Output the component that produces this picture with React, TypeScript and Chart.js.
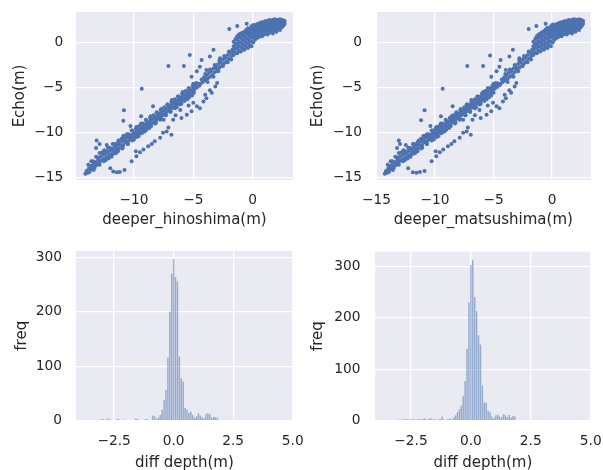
import React, { useEffect, useRef } from "react";
import { Chart, registerables } from "chart.js";

Chart.register(...registerables);

const FONT = "'DejaVu Sans', sans-serif";
const TEXT = "#262626";
const BG = "#EAEAF2";
const BLUE = "#4C72B0";

// ---------- tick labels ----------
const hinoXTicks = [-10, -5, 0];
const matsuXTicks = [-15, -10, -5, 0];
const echoTicks = [-15, -10, -5, 0];
const diffTicks = [-2.5, 0, 2.5, 5];
const freqTicks = [0, 100, 200, 300];

// ---------- scatter: [deeper depth, Echo depth] ----------
const hinoshimaPoints: [number, number][] = [
  // main band, lower part
  [-14.1,-14.6],[-14.0,-14.3],[-13.9,-14.5],[-13.8,-14.0],[-13.7,-14.2],[-13.6,-13.7],[-13.5,-14.0],[-13.4,-13.5],[-13.3,-13.8],[-13.2,-13.3],
  [-13.1,-13.6],[-13.0,-13.0],[-12.9,-13.3],[-12.8,-12.7],[-12.7,-13.1],[-12.6,-12.5],[-12.5,-12.9],[-12.4,-12.4],[-12.3,-12.8],[-12.2,-12.2],
  [-12.1,-12.6],[-12.0,-12.0],[-11.9,-12.4],[-11.8,-11.8],[-11.7,-12.1],[-11.6,-11.6],[-11.5,-11.9],[-11.4,-11.4],[-11.3,-11.8],[-11.2,-11.3],
  [-11.1,-11.5],[-11.0,-11.0],[-10.9,-11.4],[-10.8,-10.8],[-10.7,-11.1],[-10.6,-10.6],[-10.5,-11.0],[-10.4,-10.5],[-10.3,-10.8],[-10.2,-10.3],
  [-10.1,-10.6],[-10.0,-10.1],[-9.9,-10.4],[-9.8,-9.9],[-9.7,-10.2],[-9.6,-9.7],[-9.5,-10.0],[-9.4,-9.5],[-9.3,-9.8],[-9.2,-9.3],
  [-9.1,-9.6],[-9.0,-9.1],[-8.9,-9.4],[-8.8,-8.9],[-8.7,-9.2],[-8.6,-8.7],[-8.5,-9.0],[-8.4,-8.5],[-8.3,-8.8],[-8.2,-8.3],
  [-8.1,-8.6],[-8.0,-8.1],[-7.9,-8.4],[-7.8,-7.9],[-7.7,-8.2],[-7.6,-7.7],[-7.5,-8.0],[-7.4,-7.5],[-7.3,-7.8],[-7.2,-7.3],
  [-7.1,-7.6],[-7.0,-7.1],[-6.9,-7.4],[-6.8,-6.9],[-6.7,-7.2],[-6.6,-6.7],[-6.5,-7.0],[-6.4,-6.5],[-6.3,-6.8],[-6.2,-6.3],
  [-6.1,-6.6],[-6.0,-6.1],[-5.9,-6.4],[-5.8,-5.9],[-5.7,-6.2],[-5.6,-5.7],[-5.5,-6.0],[-5.4,-5.5],[-5.3,-5.8],[-5.2,-5.3],
  [-5.1,-5.5],[-5.0,-5.0],[-4.9,-5.2],[-4.8,-4.8],[-4.7,-5.0],[-4.6,-4.6],[-4.5,-4.8],
  // band upper and lower edges
  [-13.85,-13.6],[-13.45,-13.2],[-13.05,-12.8],[-12.65,-12.2],[-12.35,-12.1],[-12.05,-11.7],[-11.65,-11.3],[-11.35,-11.1],[-11.05,-10.7],[-10.75,-10.4],
  [-10.45,-10.2],[-10.15,-9.8],[-9.85,-9.6],[-9.55,-9.3],[-9.25,-9.0],[-8.95,-8.7],[-8.65,-8.4],[-8.35,-8.1],[-8.05,-7.8],[-7.75,-7.5],
  [-7.45,-7.2],[-7.15,-6.9],[-6.85,-6.6],[-6.55,-6.3],[-6.25,-6.0],[-5.95,-5.7],[-5.65,-5.4],[-5.35,-5.1],[-5.05,-4.8],[-4.75,-4.5],
  [-13.75,-14.4],[-13.35,-14.0],[-12.95,-13.5],[-12.55,-13.2],[-12.15,-12.9],[-11.75,-12.4],[-11.35,-12.1],[-10.95,-11.7],[-10.55,-11.3],[-10.15,-10.9],
  [-9.75,-10.5],[-9.35,-10.1],[-8.95,-9.7],[-8.55,-9.3],[-8.15,-8.9],[-7.75,-8.5],[-7.35,-8.1],[-6.95,-7.7],[-6.55,-7.3],[-6.15,-6.9],
  [-5.75,-6.5],[-5.35,-6.1],[-4.95,-5.6],
  // band spread
  [-13.6,-13.2],[-13.2,-12.7],[-12.9,-12.3],[-12.5,-12.0],[-12.2,-11.7],[-11.8,-11.3],[-11.3,-10.9],[-10.9,-10.4],[-10.6,-10.2],[-10.2,-9.8],
  [-9.8,-9.4],[-9.4,-9.0],[-9.0,-8.6],[-8.6,-8.2],[-8.1,-7.8],[-7.7,-7.4],[-7.2,-6.9],[-6.8,-6.4],[-6.3,-6.0],[-5.9,-5.5],[-5.4,-5.1],[-5.0,-4.6],
  [-13.4,-14.2],[-12.9,-13.6],[-12.4,-13.1],[-11.9,-12.7],[-11.5,-12.3],[-11.0,-11.8],[-10.5,-11.3],[-10.0,-10.8],[-9.6,-10.4],[-9.1,-9.9],
  [-8.7,-9.5],[-8.2,-9.0],[-7.8,-8.6],[-7.3,-8.1],[-6.9,-7.7],[-6.4,-7.2],[-6.0,-6.8],[-5.5,-6.3],[-5.1,-5.9],
  // steep middle part
  [-4.4,-4.6],[-4.3,-4.1],[-4.2,-4.4],[-4.1,-3.9],[-4.0,-4.2],[-3.9,-3.6],[-3.8,-4.0],[-3.7,-3.4],[-3.6,-3.8],[-3.5,-3.2],
  [-3.4,-3.6],[-3.3,-2.9],[-3.2,-3.3],[-3.1,-2.7],[-3.0,-3.0],[-2.9,-2.4],[-2.8,-2.8],[-2.7,-2.2],[-2.6,-2.6],[-2.5,-1.9],
  [-2.4,-2.3],[-2.3,-1.7],[-2.2,-2.1],[-2.1,-1.4],[-2.0,-1.8],[-1.9,-1.1],[-1.8,-1.5],[-1.7,-0.8],[-1.6,-1.2],[-1.5,-0.5],
  [-4.0,-3.5],[-3.6,-3.0],[-3.2,-2.5],[-2.8,-2.0],[-2.4,-1.5],[-2.0,-1.0],[-3.8,-4.4],[-3.3,-3.8],[-2.9,-3.2],[-2.5,-2.6],[-2.1,-2.2],[-1.8,-1.9],
  // upper cluster
  [-1.6,-1.4],[-1.6,-0.9],[-1.6,-0.4],[-1.6,0.1],
  [-1.45,-1.1],[-1.45,-0.6],[-1.45,-0.1],[-1.45,0.4],
  [-1.3,-1.2],[-1.3,-0.7],[-1.3,-0.2],[-1.3,0.3],[-1.3,0.7],
  [-1.15,-0.9],[-1.15,-0.4],[-1.15,0.1],[-1.15,0.6],[-1.15,0.9],
  [-1.0,-1.0],[-1.0,-0.5],[-1.0,0.0],[-1.0,0.5],[-1.0,1.0],
  [-0.85,-0.7],[-0.85,-0.2],[-0.85,0.3],[-0.85,0.8],[-0.85,1.1],
  [-0.7,-0.8],[-0.7,-0.3],[-0.7,0.2],[-0.7,0.7],[-0.7,1.2],
  [-0.55,-0.5],[-0.55,0.0],[-0.55,0.5],[-0.55,1.0],[-0.55,1.4],
  [-0.4,-0.6],[-0.4,-0.1],[-0.4,0.4],[-0.4,0.9],[-0.4,1.3],[-0.4,1.6],
  [-0.25,-0.3],[-0.25,0.2],[-0.25,0.7],[-0.25,1.1],[-0.25,1.5],
  [-0.1,-0.4],[-0.1,0.1],[-0.1,0.6],[-0.1,1.0],[-0.1,1.4],[-0.1,1.8],
  [0.05,0.0],[0.05,0.5],[0.05,0.9],[0.05,1.3],[0.05,1.7],[0.05,1.95],
  [0.2,0.3],[0.2,0.8],[0.2,1.2],[0.2,1.6],[0.2,1.9],
  [0.35,0.5],[0.35,0.9],[0.35,1.3],[0.35,1.7],[0.35,2.05],
  [0.5,0.6],[0.5,1.0],[0.5,1.4],[0.5,1.8],[0.5,2.1],
  [0.65,0.8],[0.65,1.2],[0.65,1.6],[0.65,1.95],[0.65,2.2],
  [0.8,0.7],[0.8,1.1],[0.8,1.5],[0.8,1.9],[0.8,2.25],
  [0.95,0.9],[0.95,1.3],[0.95,1.7],[0.95,2.05],[0.95,2.3],
  [1.1,1.0],[1.1,1.4],[1.1,1.8],[1.1,2.15],[1.1,2.4],
  [1.25,0.9],[1.25,1.3],[1.25,1.7],[1.25,2.0],[1.25,2.35],
  [1.4,1.1],[1.4,1.5],[1.4,1.9],[1.4,2.2],[1.4,2.5],
  [1.55,1.2],[1.55,1.6],[1.55,2.0],[1.55,2.3],[1.55,2.45],
  [1.7,1.0],[1.7,1.4],[1.7,1.8],[1.7,2.15],[1.7,2.5],
  [1.85,1.3],[1.85,1.7],[1.85,2.1],[1.85,2.4],[1.85,2.6],
  [2.0,1.2],[2.0,1.6],[2.0,2.0],[2.0,2.3],[2.0,2.55],
  [2.15,1.5],[2.15,1.9],[2.15,2.2],[2.15,2.5],
  [2.3,1.4],[2.3,1.8],[2.3,2.1],[2.3,2.4],[2.3,2.6],
  [2.45,1.7],[2.45,2.0],[2.45,2.3],[2.45,2.55],
  [2.6,1.9],[2.6,2.2],[2.6,2.45],[2.7,2.1],[2.7,2.4],
  // points above the band
  [-7.1,-2.6],[-5.8,-2.6],[-9.35,-5.15],[-10.85,-7.55],[-10.9,-8.7],[-13.15,-10.9],[-13.2,-11.75],[-12.9,-11.3],
  [-4.3,-1.95],[-5.3,-1.4],[-3.3,-0.8],[-3.6,-1.55],[-2.75,-1.75],[-1.97,1.5],[-1.3,1.85],[-0.5,2.1],
  [-4.45,-2.7],[-3.9,-3.05],[-4.7,-3.2],[-5.15,-3.8],[-8.4,-7.1],[-9.4,-8.2],[-10.3,-9.3],[-12.3,-11.4],
  // points below the band
  [-12.0,-14.0],[-11.75,-14.35],[-11.45,-14.45],[-11.2,-14.4],[-10.8,-14.2],[-10.2,-13.2],[-9.8,-12.65],[-9.85,-12.1],
  [-9.2,-11.9],[-8.8,-11.55],[-8.25,-11.0],[-7.8,-10.6],[-7.55,-10.05],[-7.25,-9.9],[-6.85,-10.25],[-7.1,-9.45],
  [-6.7,-8.6],[-6.1,-7.5],[-6.0,-8.4],[-5.55,-8.05],[-5.15,-7.65],[-4.7,-7.1],[-4.45,-7.3],[-4.15,-6.55],
  [-3.9,-6.2],[-3.45,-5.6],[-3.15,-4.9],[-3.0,-4.5],[-7.5,-8.6],[-6.5,-8.1],[-5.4,-7.0],[-5.0,-6.7],
  [-3.6,-5.3],[-4.0,-5.8],[-8.5,-11.3],[-9.5,-12.2],
];

const matsushimaPoints: [number, number][] = [
  // main band, lower part
  [-14.3,-14.6],[-14.2,-14.3],[-14.1,-14.5],[-14.0,-14.0],[-13.9,-14.2],[-13.8,-13.7],[-13.7,-14.0],[-13.6,-13.5],[-13.5,-13.8],[-13.4,-13.3],
  [-13.3,-13.6],[-13.2,-13.0],[-13.1,-13.3],[-13.0,-12.7],[-12.9,-13.1],[-12.8,-12.5],[-12.7,-12.9],[-12.6,-12.4],[-12.5,-12.8],[-12.4,-12.2],
  [-12.3,-12.6],[-12.2,-12.0],[-12.1,-12.4],[-12.0,-11.8],[-11.9,-12.1],[-11.8,-11.6],[-11.7,-11.9],[-11.6,-11.4],[-11.5,-11.8],[-11.4,-11.3],
  [-11.3,-11.5],[-11.2,-11.0],[-11.1,-11.4],[-11.0,-10.8],[-10.9,-11.1],[-10.8,-10.6],[-10.7,-11.0],[-10.6,-10.5],[-10.5,-10.8],[-10.4,-10.3],
  [-10.3,-10.6],[-10.2,-10.1],[-10.1,-10.4],[-10.0,-9.95],[-9.9,-10.25],[-9.8,-9.75],[-9.7,-10.05],[-9.6,-9.55],[-9.5,-9.85],[-9.4,-9.35],
  [-9.3,-9.65],[-9.2,-9.15],[-9.1,-9.45],[-9.0,-8.95],[-8.9,-9.25],[-8.8,-8.75],[-8.7,-9.05],[-8.6,-8.55],[-8.5,-8.85],[-8.4,-8.35],
  [-8.3,-8.65],[-8.2,-8.15],[-8.1,-8.45],[-8.0,-7.95],[-7.9,-8.25],[-7.8,-7.75],[-7.7,-8.05],[-7.6,-7.55],[-7.5,-7.85],[-7.4,-7.35],
  [-7.3,-7.65],[-7.2,-7.15],[-7.1,-7.45],[-7.0,-6.95],[-6.9,-7.25],[-6.8,-6.75],[-6.7,-7.05],[-6.6,-6.55],[-6.5,-6.85],[-6.4,-6.35],
  [-6.3,-6.65],[-6.2,-6.15],[-6.1,-6.45],[-6.0,-5.95],[-5.9,-6.25],[-5.8,-5.75],[-5.7,-6.05],[-5.6,-5.55],[-5.5,-5.85],[-5.4,-5.35],
  [-5.3,-5.6],[-5.2,-5.1],[-5.1,-5.4],[-5.0,-4.95],[-4.9,-5.15],[-4.8,-4.75],[-4.7,-4.95],[-4.6,-4.55],[-4.5,-4.75],
  // band upper and lower edges
  [-14.05,-13.6],[-13.65,-13.2],[-13.25,-12.8],[-12.85,-12.2],[-12.55,-12.1],[-12.2,-11.7],[-11.8,-11.3],[-11.5,-11.1],[-11.2,-10.7],[-10.9,-10.4],
  [-10.55,-10.2],[-10.25,-9.8],[-9.95,-9.6],[-9.65,-9.3],[-9.35,-9.0],[-9.05,-8.7],[-8.75,-8.4],[-8.45,-8.1],[-8.15,-7.8],[-7.85,-7.5],
  [-7.5,-7.2],[-7.2,-6.9],[-6.9,-6.6],[-6.6,-6.3],[-6.3,-6.0],[-6.0,-5.7],[-5.7,-5.4],[-5.4,-5.1],[-5.1,-4.8],[-4.8,-4.5],
  [-13.95,-14.4],[-13.55,-14.0],[-13.15,-13.5],[-12.75,-13.2],[-12.35,-12.9],[-11.9,-12.4],[-11.5,-12.1],[-11.1,-11.7],[-10.7,-11.3],[-10.3,-10.9],
  [-9.85,-10.5],[-9.45,-10.1],[-9.05,-9.7],[-8.65,-9.3],[-8.25,-8.9],[-7.85,-8.5],[-7.4,-8.1],[-7.0,-7.7],[-6.6,-7.3],[-6.2,-6.9],
  [-5.8,-6.5],[-5.4,-6.1],[-5.0,-5.6],
  // band spread
  [-13.8,-13.2],[-13.4,-12.7],[-13.1,-12.3],[-12.7,-12.0],[-12.3,-11.7],[-11.9,-11.3],[-11.4,-10.9],[-11.0,-10.4],[-10.7,-10.2],[-10.3,-9.8],
  [-9.9,-9.4],[-9.5,-9.0],[-9.1,-8.6],[-8.6,-8.2],[-8.2,-7.8],[-7.8,-7.4],[-7.3,-6.9],[-6.9,-6.4],[-6.4,-6.0],[-5.9,-5.5],[-5.5,-5.1],[-5.0,-4.6],
  [-13.6,-14.2],[-13.1,-13.6],[-12.6,-13.1],[-12.1,-12.7],[-11.7,-12.3],[-11.2,-11.8],[-10.7,-11.3],[-10.1,-10.8],[-9.7,-10.4],[-9.2,-9.9],
  [-8.8,-9.5],[-8.3,-9.0],[-7.9,-8.6],[-7.4,-8.1],[-7.0,-7.7],[-6.5,-7.2],[-6.1,-6.8],[-5.6,-6.3],[-5.2,-5.9],
  // steep middle part
  [-4.4,-4.6],[-4.3,-4.1],[-4.2,-4.4],[-4.1,-3.9],[-4.0,-4.2],[-3.9,-3.6],[-3.8,-4.0],[-3.7,-3.4],[-3.6,-3.8],[-3.5,-3.2],
  [-3.4,-3.6],[-3.3,-2.9],[-3.2,-3.3],[-3.1,-2.7],[-3.0,-3.0],[-2.9,-2.4],[-2.8,-2.8],[-2.7,-2.2],[-2.6,-2.6],[-2.5,-1.9],
  [-2.4,-2.3],[-2.3,-1.7],[-2.2,-2.1],[-2.1,-1.4],[-2.0,-1.8],[-1.9,-1.1],[-1.8,-1.5],[-1.7,-0.8],[-1.6,-1.2],[-1.5,-0.5],
  [-4.0,-3.5],[-3.6,-3.0],[-3.2,-2.5],[-2.8,-2.0],[-2.4,-1.5],[-2.0,-1.0],[-3.8,-4.4],[-3.3,-3.8],[-2.9,-3.2],[-2.5,-2.6],[-2.1,-2.2],[-1.8,-1.9],
  // upper cluster
  [-1.6,-1.4],[-1.6,-0.9],[-1.6,-0.4],[-1.6,0.1],
  [-1.45,-1.1],[-1.45,-0.6],[-1.45,-0.1],[-1.45,0.4],
  [-1.3,-1.2],[-1.3,-0.7],[-1.3,-0.2],[-1.3,0.3],[-1.3,0.7],
  [-1.15,-0.9],[-1.15,-0.4],[-1.15,0.1],[-1.15,0.6],[-1.15,0.9],
  [-1.0,-1.0],[-1.0,-0.5],[-1.0,0.0],[-1.0,0.5],[-1.0,1.0],
  [-0.85,-0.7],[-0.85,-0.2],[-0.85,0.3],[-0.85,0.8],[-0.85,1.15],
  [-0.7,-0.8],[-0.7,-0.3],[-0.7,0.2],[-0.7,0.7],[-0.7,1.25],
  [-0.55,-0.5],[-0.55,0.0],[-0.55,0.5],[-0.55,1.0],[-0.55,1.45],
  [-0.4,-0.6],[-0.4,-0.1],[-0.4,0.4],[-0.4,0.9],[-0.4,1.3],[-0.4,1.65],
  [-0.25,-0.3],[-0.25,0.2],[-0.25,0.7],[-0.25,1.1],[-0.25,1.5],
  [-0.1,-0.4],[-0.1,0.1],[-0.1,0.6],[-0.1,1.0],[-0.1,1.4],[-0.1,1.8],
  [0.05,0.0],[0.05,0.5],[0.05,0.9],[0.05,1.3],[0.05,1.7],[0.05,2.0],
  [0.2,0.3],[0.2,0.8],[0.2,1.2],[0.2,1.6],[0.2,1.95],
  [0.35,0.5],[0.35,0.9],[0.35,1.3],[0.35,1.7],[0.35,2.05],
  [0.5,0.6],[0.5,1.0],[0.5,1.4],[0.5,1.8],[0.5,2.1],
  [0.65,0.8],[0.65,1.2],[0.65,1.6],[0.65,1.95],[0.65,2.2],
  [0.8,0.7],[0.8,1.1],[0.8,1.5],[0.8,1.9],[0.8,2.25],
  [0.95,0.9],[0.95,1.3],[0.95,1.7],[0.95,2.05],[0.95,2.3],
  [1.1,1.0],[1.1,1.4],[1.1,1.8],[1.1,2.15],[1.1,2.4],
  [1.25,0.9],[1.25,1.3],[1.25,1.7],[1.25,2.0],[1.25,2.35],
  [1.4,1.1],[1.4,1.5],[1.4,1.9],[1.4,2.2],[1.4,2.5],
  [1.55,1.2],[1.55,1.6],[1.55,2.0],[1.55,2.3],[1.55,2.45],
  [1.7,1.0],[1.7,1.4],[1.7,1.8],[1.7,2.15],[1.7,2.5],
  [1.85,1.3],[1.85,1.7],[1.85,2.1],[1.85,2.4],[1.85,2.6],
  [2.0,1.2],[2.0,1.6],[2.0,2.0],[2.0,2.3],[2.0,2.55],
  [2.15,1.5],[2.15,1.9],[2.15,2.2],[2.15,2.5],
  [2.3,1.4],[2.3,1.8],[2.3,2.1],[2.3,2.4],[2.3,2.6],
  [2.45,1.7],[2.45,2.0],[2.45,2.3],[2.45,2.55],
  [2.55,1.9],[2.55,2.2],[2.55,2.45],[2.65,2.1],[2.65,2.4],
  // points above the band
  [-7.25,-2.6],[-5.9,-2.6],[-9.35,-5.15],[-10.9,-7.55],[-11.2,-8.65],[-13.1,-10.9],[-13.25,-11.75],[-13.0,-11.3],
  [-4.4,-1.95],[-5.3,-1.45],[-3.35,-0.8],[-3.65,-1.55],[-2.8,-1.75],[-2.0,1.5],[-1.35,1.85],[-0.55,2.1],
  [-4.5,-2.7],[-3.95,-3.05],[-4.75,-3.2],[-5.2,-3.8],[-8.5,-7.1],[-9.5,-8.2],[-10.4,-9.3],[-12.5,-11.4],
  // points below the band
  [-12.3,-14.0],[-11.9,-14.45],[-11.6,-14.5],[-11.3,-14.4],[-10.9,-14.3],[-10.3,-13.2],[-9.9,-12.65],[-9.95,-12.1],
  [-9.3,-11.9],[-8.9,-11.55],[-8.35,-11.0],[-7.9,-10.6],[-7.6,-10.05],[-7.3,-9.9],[-6.95,-10.25],[-7.2,-9.45],
  [-6.8,-8.6],[-6.2,-7.5],[-6.1,-8.4],[-5.6,-8.05],[-5.2,-7.65],[-4.75,-7.1],[-4.5,-7.3],[-4.2,-6.55],
  [-3.95,-6.2],[-3.5,-5.6],[-3.2,-4.9],[-3.05,-4.5],[-7.6,-8.6],[-6.6,-8.1],[-5.5,-7.0],[-5.05,-6.7],
  [-3.65,-5.3],[-4.05,-5.8],[-8.6,-11.3],[-9.6,-12.2],
];

// ---------- histograms of depth difference ----------
const diffBins = [
  -3.04, -2.96, -2.88, -2.80, -2.72, -2.64, -2.56, -2.48, -2.40, -2.32,
  -2.24, -2.16, -2.08, -2.00, -1.92, -1.84, -1.76, -1.68, -1.60, -1.52,
  -1.44, -1.36, -1.28, -1.20, -1.12, -1.04, -0.96, -0.88, -0.80, -0.72,
  -0.64, -0.56, -0.48, -0.40, -0.32, -0.24, -0.16, -0.08, 0.00, 0.08,
  0.16, 0.24, 0.32, 0.40, 0.48, 0.56, 0.64, 0.72, 0.80, 0.88,
  0.96, 1.04, 1.12, 1.20, 1.28, 1.36, 1.44, 1.52, 1.60, 1.68,
  1.76, 1.84,
];
const hinoshimaFreq = [
  2, 3, 0, 3, 3, 2, 0, 0, 2, 3,
  0, 0, 2, 0, 0, 0, 0, 0, 3, 3,
  0, 0, 0, 2, 3, 0, 0, 9, 8, 3,
  6, 10, 20, 38, 56, 116, 200, 270, 297, 264,
  256, 118, 78, 72, 23, 20, 14, 16, 10, 5,
  8, 14, 9, 6, 4, 12, 13, 12, 5, 7,
  6, 5,
];
const matsushimaFreq = [
  2, 0, 2, 2, 3, 2, 2, 3, 2, 2,
  2, 3, 2, 3, 4, 2, 3, 5, 2, 3,
  0, 2, 3, 8, 2, 0, 3, 4, 2, 6,
  10, 16, 22, 29, 48, 77, 140, 230, 303, 313,
  240, 213, 166, 148, 68, 35, 35, 19, 16, 8,
  5, 10, 11, 8, 6, 12, 10, 7, 11, 6,
  9, 8,
];

const bgPlugin = {
  id: "axesBg",
  beforeDraw(chart: any) {
    const { ctx, chartArea } = chart;
    if (!chartArea) return;
    ctx.save();
    ctx.fillStyle = BG;
    ctx.fillRect(chartArea.left, chartArea.top, chartArea.right - chartArea.left, chartArea.bottom - chartArea.top);
    ctx.restore();
  },
};

const fmtInt = (v: number) => (v < 0 ? "\u2212" + Math.abs(v) : String(v));
const fmtOne = (v: number) => (v < 0 ? "\u2212" + Math.abs(v).toFixed(1) : v.toFixed(1));

type Panel = {
  left: number; top: number; width: number; height: number;
  padTop: number; padRight: number; yWidth: number; xHeight: number;
  yTitlePad: number; yTickPad: number;
};

function axes(p: Panel, o: any) {
  return {
    x: {
      type: "linear",
      min: o.xMin, max: o.xMax, offset: false,
      afterBuildTicks: (s: any) => { s.ticks = o.xTicks.map((v: number) => ({ value: v })); },
      afterFit: (s: any) => { s.height = p.xHeight; s.paddingLeft = 0; s.paddingRight = 0; },
      grid: { color: "#ffffff", lineWidth: 1.25, drawTicks: false, offset: false },
      border: { display: false },
      ticks: {
        color: TEXT, font: { family: FONT, size: 13.75 }, padding: 12.5,
        maxRotation: 0, autoSkip: false, callback: (v: any) => o.xFmt(Number(v)),
      },
      title: {
        display: true, text: o.xTitle, color: TEXT,
        font: { family: FONT, size: 15, lineHeight: 1.2 }, padding: { top: 0, bottom: 6 },
      },
    },
    y: {
      type: "linear",
      min: o.yMin, max: o.yMax,
      afterBuildTicks: (s: any) => { s.ticks = o.yTicks.map((v: number) => ({ value: v })); },
      afterFit: (s: any) => { s.width = p.yWidth; s.paddingTop = 0; s.paddingBottom = 0; },
      grid: { color: "#ffffff", lineWidth: 1.25, drawTicks: false },
      border: { display: false },
      ticks: {
        color: TEXT, font: { family: FONT, size: 13.75 }, padding: p.yTickPad,
        autoSkip: false, callback: (v: any) => fmtInt(Number(v)),
      },
      title: {
        display: true, text: o.yTitle, color: TEXT,
        font: { family: FONT, size: 15, lineHeight: 1.2 }, padding: { top: p.yTitlePad, bottom: 0 },
      },
    },
  };
}

function baseOptions(p: Panel, o: any) {
  return {
    responsive: false,
    animation: false,
    devicePixelRatio: 1,
    events: [],
    layout: { padding: { left: 0, top: p.padTop, right: p.padRight, bottom: 0 } },
    plugins: { legend: { display: false }, tooltip: { enabled: false } },
    scales: axes(p, o),
  };
}

function ChartPanel({ panel, build }: { panel: Panel; build: (p: Panel) => any }) {
  const ref = useRef<HTMLCanvasElement | null>(null);
  useEffect(() => {
    if (!ref.current) return;
    const chart = new Chart(ref.current, build(panel));
    return () => chart.destroy();
  }, []);
  return (
    <canvas
      ref={ref}
      width={panel.width}
      height={panel.height}
      style={{ position: "absolute", left: panel.left, top: panel.top, width: panel.width, height: panel.height }}
    />
  );
}

const TL: Panel = { left: 0, top: 0, width: 300, height: 235, padTop: 12, padRight: 7, yWidth: 76, xHeight: 55, yTitlePad: 11, yTickPad: 12.7 };
const TR: Panel = { left: 300, top: 0, width: 303, height: 235, padTop: 12, padRight: 12.3, yWidth: 76, xHeight: 55, yTitlePad: 9.5, yTickPad: 14 };
const BL: Panel = { left: 0, top: 235, width: 320, height: 243, padTop: 16, padRight: 27.3, yWidth: 76, xHeight: 57.5, yTitlePad: 12.7, yTickPad: 14 };
const BR: Panel = { left: 300, top: 235, width: 303, height: 243, padTop: 16.7, padRight: 12.3, yWidth: 75, xHeight: 57.5, yTitlePad: 9.3, yTickPad: 14.5 };

const scatterConfig = (points: [number, number][], o: any) => (p: Panel) => ({
  type: "scatter",
  data: {
    datasets: [{
      data: points.map(([x, y]) => ({ x, y })),
      pointRadius: 2.0,
      pointBackgroundColor: BLUE,
      pointBorderWidth: 0,
      showLine: false,
    }],
  },
  options: baseOptions(p, o),
  plugins: [bgPlugin],
});

const histConfig = (freq: number[], o: any) => (p: Panel) => ({
  type: "bar",
  data: {
    datasets: [{
      data: diffBins.map((x, i) => ({ x, y: freq[i] })),
      backgroundColor: "rgba(76,114,176,0.55)",
      borderWidth: 0,
      barPercentage: 0.75,
      categoryPercentage: 1,
    }],
  },
  options: baseOptions(p, o),
  plugins: [bgPlugin],
});

export default function App() {
  return (
    <div style={{ position: "fixed", left: 0, top: 0, width: 603, height: 470, overflow: "hidden", background: "#ffffff" }}>
      <ChartPanel
        panel={TL}
        build={scatterConfig(hinoshimaPoints, {
          xMin: -14.89, xMax: 3.4, yMin: -15.3, yMax: 3.4, xTicks: hinoXTicks, yTicks: echoTicks,
          xFmt: fmtInt, xTitle: "deeper_hinoshima(m)", yTitle: "Echo(m)",
        })}
      />
      <ChartPanel
        panel={TR}
        build={scatterConfig(matsushimaPoints, {
          xMin: -15.05, xMax: 3.3, yMin: -15.3, yMax: 3.4, xTicks: matsuXTicks, yTicks: echoTicks,
          xFmt: fmtInt, xTitle: "deeper_matsushima(m)", yTitle: "Echo(m)",
        })}
      />
      <ChartPanel
        panel={BL}
        build={histConfig(hinoshimaFreq, {
          xMin: -4.1, xMax: 5.0, yMin: 0, yMax: 312, xTicks: diffTicks, yTicks: freqTicks,
          xFmt: fmtOne, xTitle: "diff depth(m)", yTitle: "freq",
        })}
      />
      <ChartPanel
        panel={BR}
        build={histConfig(matsushimaFreq, {
          xMin: -4.0, xMax: 5.0, yMin: 0, yMax: 329, xTicks: diffTicks, yTicks: freqTicks,
          xFmt: fmtOne, xTitle: "diff depth(m)", yTitle: "freq",
        })}
      />
    </div>
  );
}
